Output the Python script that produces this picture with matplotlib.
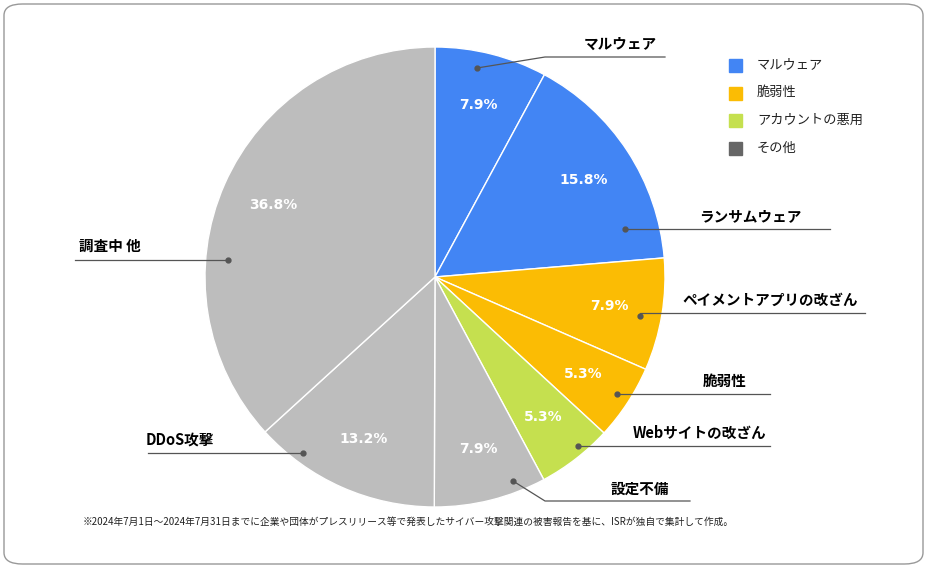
import matplotlib.pyplot as plt
from matplotlib.patches import FancyBboxPatch, Rectangle

plt.rcParams['font.family'] = 'Noto Sans CJK JP'

# data
labels = ['マルウェア', 'ランサムウェア', 'ペイメントアプリの改ざん', '脆弱性',
          'Webサイトの改ざん', '設定不備', 'DDoS攻撃', '調査中 他']
values = [7.9, 15.8, 7.9, 5.3, 5.3, 7.9, 13.2, 36.8]
groups = ['マルウェア', 'マルウェア', '脆弱性', '脆弱性',
          'アカウントの悪用', 'その他', 'その他', 'その他']
legend_names = ['マルウェア', '脆弱性', 'アカウントの悪用', 'その他']
group_colors = {'マルウェア': '#4285F4', '脆弱性': '#FBBC04',
                'アカウントの悪用': '#C5E04F', 'その他': '#BDBDBD'}
legend_colors = ['#4285F4', '#FBBC04', '#C5E04F', '#666666']
note = '※2024年7月1日～2024年7月31日までに企業や団体がプレスリリース等で発表したサイバー攻撃関連の被害報告を基に、ISRが独自で集計して作成。'

W, H = 927, 568
fig = plt.figure(figsize=(W / 100, H / 100), dpi=100)

# rounded frame
fig.patches.append(FancyBboxPatch((4 / W, 4 / H), 1 - 8 / W, 1 - 8 / H,
                                  boxstyle='round,pad=0,rounding_size=0.02',
                                  transform=fig.transFigure, fill=False,
                                  edgecolor='#999999', lw=1))

cx, cy, R = 435, 277, 230
ax = fig.add_axes([(cx - R) / W, (H - cy - R) / H, 2 * R / W, 2 * R / H])
colors = [group_colors[g] for g in groups]
wedges, texts, autotexts = ax.pie(values, colors=colors, startangle=90, counterclock=False,
                                  radius=1, autopct='%1.1f%%', pctdistance=0.77,
                                  wedgeprops=dict(edgecolor='white', linewidth=1),
                                  textprops=dict(color='white', fontsize=10, fontweight='bold',
                                                 family='DejaVu Sans'))
ax.set_xlim(-1, 1)
ax.set_ylim(-1, 1)
ax.set_aspect('auto')


def to_data(px, py):
    return (px - cx) / R, (cy - py) / R


# label leader lines: dot, underline start, underline end, underline y, text center
leaders = [
    ((477, 68), 545, 665, 57, (620, 44)),
    ((625, 229), 625, 830, 229, (750, 216)),
    ((640, 316), 640, 865, 313, (770, 300)),
    ((617, 394), 617, 770, 394, (725, 381)),
    ((578, 446), 578, 770, 446, (700, 433)),
    ((513, 481), 545, 690, 501, (640, 489)),
    ((303, 453), 300, 148, 453, (180, 440)),
    ((228, 260), 228, 75, 260, (110, 246)),
]
for lab, (dot, x0, x1, uy, tp) in zip(labels, leaders):
    d = to_data(*dot)
    p0 = to_data(x0, uy)
    p1 = to_data(x1, uy)
    ax.plot([d[0], p0[0], p1[0]], [d[1], p0[1], p1[1]], color='#555555', lw=0.9, clip_on=False)
    ax.plot(*d, 'o', color='#555555', ms=3.5, clip_on=False)
    t = to_data(*tp)
    ax.text(t[0], t[1], lab, ha='center', va='center', fontsize=10.5,
            fontweight='bold', clip_on=False)

# legend
for i, (name, c) in enumerate(zip(legend_names, legend_colors)):
    y = 65 + i * 27.7
    fig.patches.append(Rectangle(((729) / W, (H - y - 7) / H), 13 / W, 13 / H,
                                 transform=fig.transFigure, color=c))
    fig.text(757 / W, (H - y) / H, name, fontsize=9.5, va='center', color='#222222')

fig.text(83 / W, (H - 522) / H, note, fontsize=7, va='center', color='#222222')

fig.savefig('out.png', dpi=100)
